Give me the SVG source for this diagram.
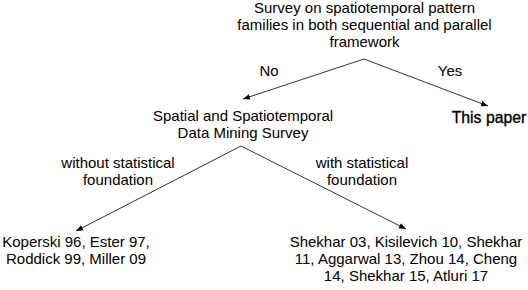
<svg xmlns="http://www.w3.org/2000/svg" width="528" height="290" viewBox="0 0 528 290">
<style>
text{font-family:"Liberation Sans",Arial,sans-serif;font-size:15px;fill:#000;text-anchor:middle}
.b{font-size:15.8px;stroke:#000;stroke-width:0.35}
.c{stroke:#000;stroke-width:0.8;fill:none;marker-end:url(#ah)}
</style>
<defs>
<marker id="ah" viewBox="0 0 10 10" refX="10" refY="5" markerWidth="7" markerHeight="7" markerUnits="userSpaceOnUse" orient="auto">
<path d="M0,1 L10,5 L0,9 z" fill="#000"/>
</marker>
</defs>
<rect width="528" height="290" fill="#fff"/>
<g id="connectors">
<line class="c" x1="364" y1="59" x2="243" y2="99"/>
<line class="c" x1="364" y1="59" x2="488" y2="106"/>
<line class="c" x1="241" y1="146" x2="76" y2="231"/>
<line class="c" x1="241" y1="146" x2="406" y2="229"/>
</g>
<g id="root">
<text x="364.5" y="13">Survey on spatiotemporal pattern</text>
<text x="364.5" y="30">families in both sequential and parallel</text>
<text x="364.5" y="47">framework</text>
</g>
<g id="label-no"><text x="269" y="76">No</text></g>
<g id="label-yes"><text x="450" y="76">Yes</text></g>
<g id="survey">
<text x="243" y="121">Spatial and Spatiotemporal</text>
<text x="243" y="138">Data Mining Survey</text>
</g>
<g id="this-paper"><text class="b" x="489" y="123">This paper</text></g>
<g id="label-without">
<text x="118" y="168">without statistical</text>
<text x="118" y="185">foundation</text>
</g>
<g id="label-with">
<text x="362" y="168">with statistical</text>
<text x="362" y="185">foundation</text>
</g>
<g id="without">
<text x="76" y="247">Koperski 96, Ester 97,</text>
<text x="76" y="264">Roddick 99, Miller 09</text>
</g>
<g id="with">
<text x="406" y="247">Shekhar 03, Kisilevich 10, Shekhar</text>
<text x="406" y="264">11, Aggarwal 13, Zhou 14, Cheng</text>
<text x="406" y="281">14, Shekhar 15, Atluri 17</text>
</g>
</svg>
